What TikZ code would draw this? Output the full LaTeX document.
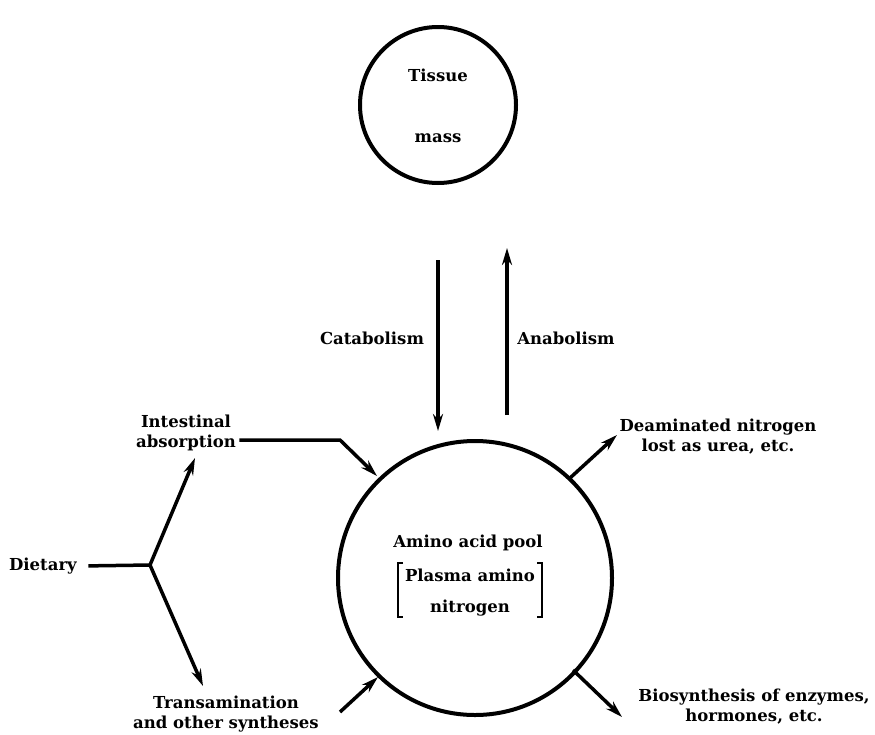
\documentclass[tikz,border=0pt]{standalone}
\usepackage{fontspec}
\setmainfont{DejaVu Serif}
\usetikzlibrary{arrows.meta}
\tikzset{
  pool/.style = {circle, draw, line width = 4pt, inner sep = 0pt},
  flow/.style = {line width = 3.5pt, -{Stealth[length = 17pt, width = 10pt]}},
  feed/.style = {line width = 3.5pt},
  lbl/.style = {align = center, font = \fontsize{16.5}{20}\selectfont\bfseries}
}
\begin{document}
\begin{tikzpicture}[x = 1pt, y = -1pt]
  \useasboundingbox (0, 0) rectangle (875, 734);
  \def\tissueradius{78}
  \def\poolradius{137}
  \node[pool, minimum size = {2*\tissueradius}] (tissue) at (438, 105) {};
  \node[pool, minimum size = {2*\poolradius}] (amino) at (475, 578) {};
  \node[lbl] (tissuetxt) at (438, 75) {Tissue};
  \node[lbl] (masstxt) at (438, 138) {mass};
  \node[lbl] (pooltxt) at (468, 543) {Amino acid pool};
  \node[lbl] (plasmatxt) at (470, 575) {Plasma amino};
  \node[lbl] (nitrotxt) at (470, 608) {nitrogen};
  \node[lbl] (catab) at (372, 338) {Catabolism};
  \node[lbl] (anab) at (566, 338) {Anabolism};
  \node[lbl] (intest) at (186, 433) {Intestinal\\absorption};
  \node[lbl] (diet) at (43, 566) {Dietary};
  \node[lbl] (trans) at (226, 714) {Transamination\\and other syntheses};
  \node[lbl] (deamin) at (718, 437) {Deaminated nitrogen\\lost as urea, etc.};
  \node[lbl] (biosyn) at (754, 707) {Biosynthesis of enzymes,\\hormones, etc.};
  \foreach \side/\dir in {398/1, 542/-1}
    \draw[line width = 1.5pt] ({\side + 5*\dir}, 563) -- (\side, 563) -- (\side, 617) -- ({\side + 5*\dir}, 617);
  \coordinate (catabtop) at (438, 260);
  \coordinate (catabend) at (438, 431);
  \coordinate (anabbot) at (507, 415);
  \coordinate (anabend) at (507, 248);
  \coordinate (intestbend) at (340, 440);
  \coordinate (intestend) at (377, 476);
  \coordinate (fork) at (150, 565);
  \coordinate (forkup) at (195, 458);
  \coordinate (forkdown) at (203, 686);
  \coordinate (transstart) at (340, 712);
  \coordinate (transend) at (378, 677);
  \coordinate (deaminstart) at (570, 478);
  \coordinate (deaminend) at (617, 435);
  \coordinate (biosynstart) at (573, 670);
  \coordinate (biosynend) at (622, 717);
  \draw[flow] (catabtop) -- (catabend);
  \draw[flow] (anabbot) -- (anabend);
  \draw[flow] (intest.east |- intestbend) -- (intestbend) -- (intestend);
  \draw[feed, shorten <= 8pt] (diet.east) -- (fork);
  \draw[flow] (fork) -- (forkup);
  \draw[flow] (fork) -- (forkdown);
  \draw[flow] (transstart) -- (transend);
  \draw[flow] (deaminstart) -- (deaminend);
  \draw[flow] (biosynstart) -- (biosynend);
\end{tikzpicture}
\end{document}
